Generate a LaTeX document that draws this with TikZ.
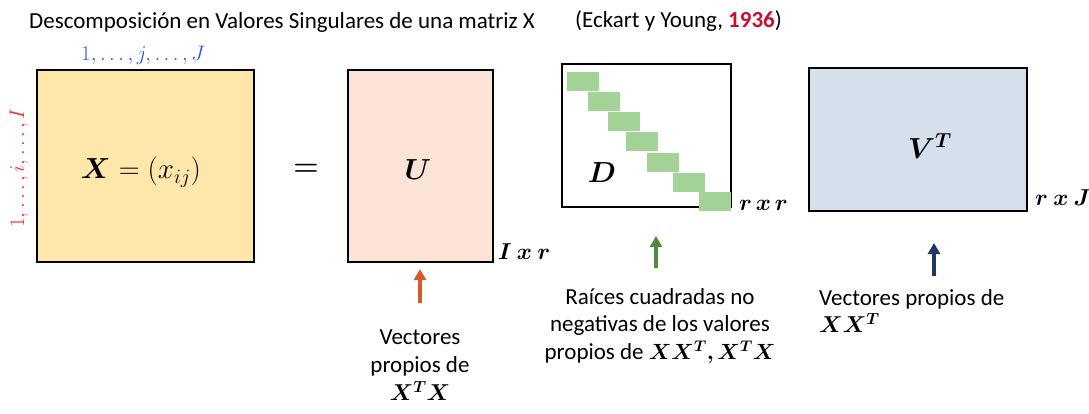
\documentclass[tikz,border=0pt]{standalone}
\usepackage{fix-cm}
\usepackage{amsmath,bm}
\usepackage{fontspec}
\setmainfont{Carlito}
\usetikzlibrary{arrows.meta}
\definecolor{xfill}{HTML}{FFE6AA}
\definecolor{ufill}{HTML}{FCE3D7}
\definecolor{vfill}{HTML}{D6E0EC}
\definecolor{dgreen}{HTML}{A3D396}
\definecolor{arrU}{HTML}{D65B2B}
\definecolor{arrD}{HTML}{4F8A3F}
\definecolor{arrV}{HTML}{1F3864}
\definecolor{yearred}{HTML}{C8102E}
\definecolor{rowred}{HTML}{F0282D}
\definecolor{colblue}{HTML}{2F50F0}
\begin{document}
\begin{tikzpicture}[x=1pt, y=-1pt,
  mat node/.style={rectangle,draw,line width=2.5pt,inner sep=0pt},
  sym node/.style={font=\fontsize{29}{32}\selectfont,inner sep=0pt},
  dim node/.style={anchor=west,font=\fontsize{23}{26}\selectfont,inner sep=0pt},
  txt node/.style={font=\fontsize{23}{27.5}\selectfont,inner sep=0pt},
  up arrow/.style={line width=4.3pt,-{Triangle[width=12pt,length=11pt]}}]
\useasboundingbox (0,0) rectangle (1089,413);
% titulo
\node [txt node,anchor=west](title) at (29,22) {Descomposición en Valores Singulares de una matriz X};
\node [txt node,anchor=west](ref) at (575,21) {(Eckart y Young, \textcolor{yearred}{\textbf{1936}})};
% matrices
\node [mat node,fill=xfill,minimum width=217pt,minimum height=192pt](X) at (145.5,166) {};
\node [mat node,fill=ufill,minimum width=145pt,minimum height=192pt](U) at (420.5,166) {};
\node [mat node,fill=white,minimum width=169pt,minimum height=143pt](D) at (646.5,135.5) {};
\node [mat node,fill=vfill,minimum width=218pt,minimum height=143pt](V) at (918,139.5) {};
\foreach \bx/\by in {567/72,588/92,608/112,626/132,647/153,673/173,699/192}
  \fill [dgreen] (\bx,\by) rectangle ++(32,19);
% etiquetas
\node [sym node](xlab) at (141,172) {$\bm{X}=(x_{ij})$};
\node [sym node](eq) at (306,170) {$\bm{=}$};
\node [sym node](ulab) at (418,170) {$\bm{U}$};
\node [sym node](dlab) at (602,173) {$\bm{D}$};
\node [sym node](vlab) at (930,146) {$\bm{V^T}$};
\node [font=\fontsize{21}{24}\selectfont,text=colblue,inner sep=0pt](cols) at (143,55) {$1,\ldots,j,\ldots,J$};
\node [font=\fontsize{21}{24}\selectfont,text=rowred,inner sep=0pt,rotate=90](rows) at (19,168) {$1,\ldots,i,\ldots,I$};
\node [dim node](udim) at (498,252) {$\bm{I\ x\ r}$};
\node [dim node](ddim) at (739,205) {$\bm{r\,x\,r}$};
\node [dim node](vdim) at (1035,198) {$\bm{r\ x\ J}$};
% textos
\node [txt node,align=center,anchor=north](utxt) at (420,330) {Vectores\\propios de\\[1pt]{\fontsize{23}{26}\selectfont$\bm{X^TX}$}};
\node [txt node,align=center,anchor=north](dtxt) at (660,288) {Raíces cuadradas no\\negativas de los valores\\propios de {\fontsize{22}{26}\selectfont$\bm{XX^T,X^TX}$}};
\node [txt node,align=left,anchor=north west](vtxt) at (819,289) {Vectores propios de\\{\fontsize{23}{26}\selectfont$\bm{XX^T}$}};
% flechas
\coordinate (uTail) at (420,303);
\coordinate (uTip) at (420,269);
\coordinate (dTail) at (656,268);
\coordinate (dTip) at (656,236);
\coordinate (vTail) at (934,276);
\coordinate (vTip) at (934,243);
\draw [up arrow,arrU] (uTail) -- (uTip);
\draw [up arrow,arrD] (dTail) -- (dTip);
\draw [up arrow,arrV] (vTail) -- (vTip);
\end{tikzpicture}
\end{document}
